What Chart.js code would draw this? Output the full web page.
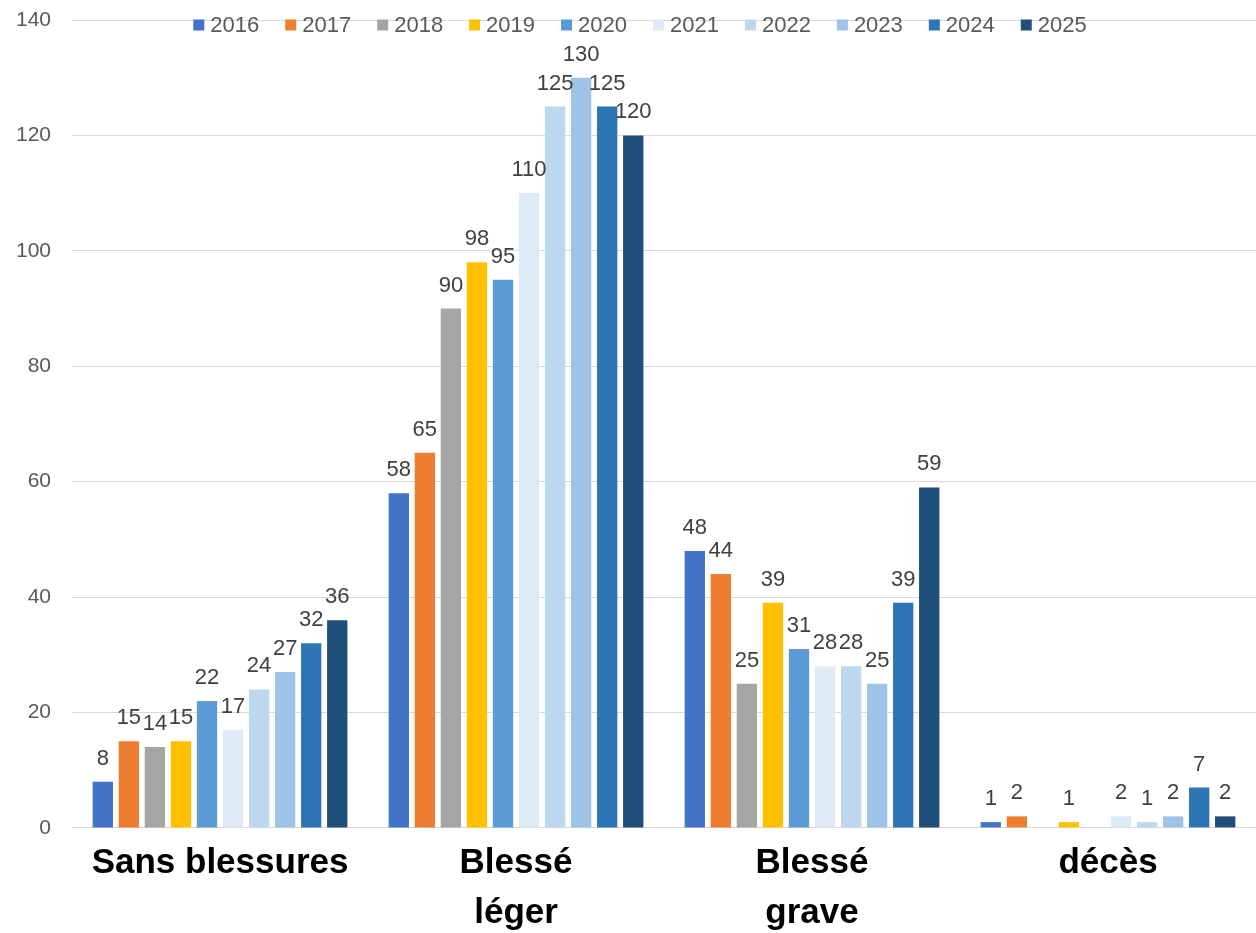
<!DOCTYPE html>
<html>
<head>
<meta charset="utf-8">
<script src="https://cdn.jsdelivr.net/npm/chart.js@4"></script>
<style>
  html, body { margin: 0; padding: 0; background: #fff; }
  #wrap { width: 1256px; height: 933px; }
</style>
</head>
<body>
<div id="wrap"><canvas id="chart"></canvas></div>
<script>
const categories = ['Sans blessures', ['Blessé', 'léger'], ['Blessé', 'grave'], 'décès'];
const years = ['2016', '2017', '2018', '2019', '2020', '2021', '2022', '2023', '2024', '2025'];
const v2016 = [8, 58, 48, 1];
const v2017 = [15, 65, 44, 2];
const v2018 = [14, 90, 25, 0];
const v2019 = [15, 98, 39, 1];
const v2020 = [22, 95, 31, 0];
const v2021 = [17, 110, 28, 2];
const v2022 = [24, 125, 28, 1];
const v2023 = [27, 130, 25, 2];
const v2024 = [32, 125, 39, 7];
const v2025 = [36, 120, 59, 2];
const yTicks = [0, 20, 40, 60, 80, 100, 120, 140];

const series = [v2016, v2017, v2018, v2019, v2020, v2021, v2022, v2023, v2024, v2025];
const colors = ['#4472C4', '#ED7D31', '#A5A5A5', '#FFC000', '#5B9BD5',
                '#DEEBF7', '#BDD7EE', '#9DC3E6', '#2E75B6', '#1F4E79'];
const FONT = '"Liberation Sans", Arial, sans-serif';

// numbers above the bars, zeros are left out
const valueLabels = {
  id: 'valueLabels',
  afterDatasetsDraw(chart) {
    const ctx = chart.ctx;
    ctx.save();
    ctx.font = '22px ' + FONT;
    ctx.fillStyle = '#404040';
    ctx.textAlign = 'center';
    ctx.textBaseline = 'alphabetic';
    chart.data.datasets.forEach((ds, i) => {
      chart.getDatasetMeta(i).data.forEach((bar, j) => {
        if (!ds.data[j]) return;
        ctx.fillText(ds.data[j], bar.x, bar.y - 17);
      });
    });
    ctx.restore();
  }
};

// legend drawn over the top gridline, like the original
const topLegend = {
  id: 'topLegend',
  afterDraw(chart) {
    const ctx = chart.ctx;
    const box = 11, gap = 6, space = 26, cy = 25, center = 640;
    ctx.save();
    ctx.font = '22px ' + FONT;
    ctx.textBaseline = 'middle';
    const items = chart.data.datasets.map(ds => ({
      text: ds.label, color: ds.backgroundColor, w: ctx.measureText(ds.label).width
    }));
    const total = items.reduce((s, it) => s + box + gap + it.w, 0) + space * (items.length - 1);
    let x = center - total / 2;
    items.forEach(it => {
      ctx.fillStyle = it.color;
      ctx.fillRect(x, cy - box / 2, box, box);
      ctx.fillStyle = '#595959';
      ctx.fillText(it.text, x + box + gap, cy + 1);
      x += box + gap + it.w + space;
    });
    ctx.restore();
  }
};

new Chart(document.getElementById('chart'), {
  type: 'bar',
  data: {
    labels: categories,
    datasets: years.map((y, i) => ({
      label: y,
      data: series[i],
      backgroundColor: colors[i],
      categoryPercentage: 0.88,
      barPercentage: 0.78
    }))
  },
  options: {
    responsive: true,
    maintainAspectRatio: false,
    animation: false,
    layout: { padding: { top: 20, right: 0, left: 0, bottom: 0 } },
    plugins: {
      tooltip: { enabled: false },
      legend: { display: false }
    },
    scales: {
      x: {
        afterFit(scale) { scale.height -= 15; },  // second label line runs to the bottom edge
        grid: { display: false, drawTicks: false },
        border: { color: '#d9d9d9', width: 1 },
        ticks: {
          color: '#000',
          padding: 10,
          maxRotation: 0,
          font: { family: FONT, size: 35, weight: 'bold', lineHeight: 1.43 }
        }
      },
      y: {
        min: 0,
        max: 140,
        afterBuildTicks(axis) { axis.ticks = yTicks.map(v => ({ value: v })); },
        afterFit(scale) { scale.paddingTop = 0; scale.paddingBottom = 0; scale.width -= 5; },
        grid: { color: '#d9d9d9', drawTicks: false },
        border: { display: false },
        ticks: {
          color: '#595959',
          padding: 21,
          font: { family: FONT, size: 21 }
        }
      }
    }
  },
  plugins: [valueLabels, topLegend]
});
</script>
</body>
</html>
